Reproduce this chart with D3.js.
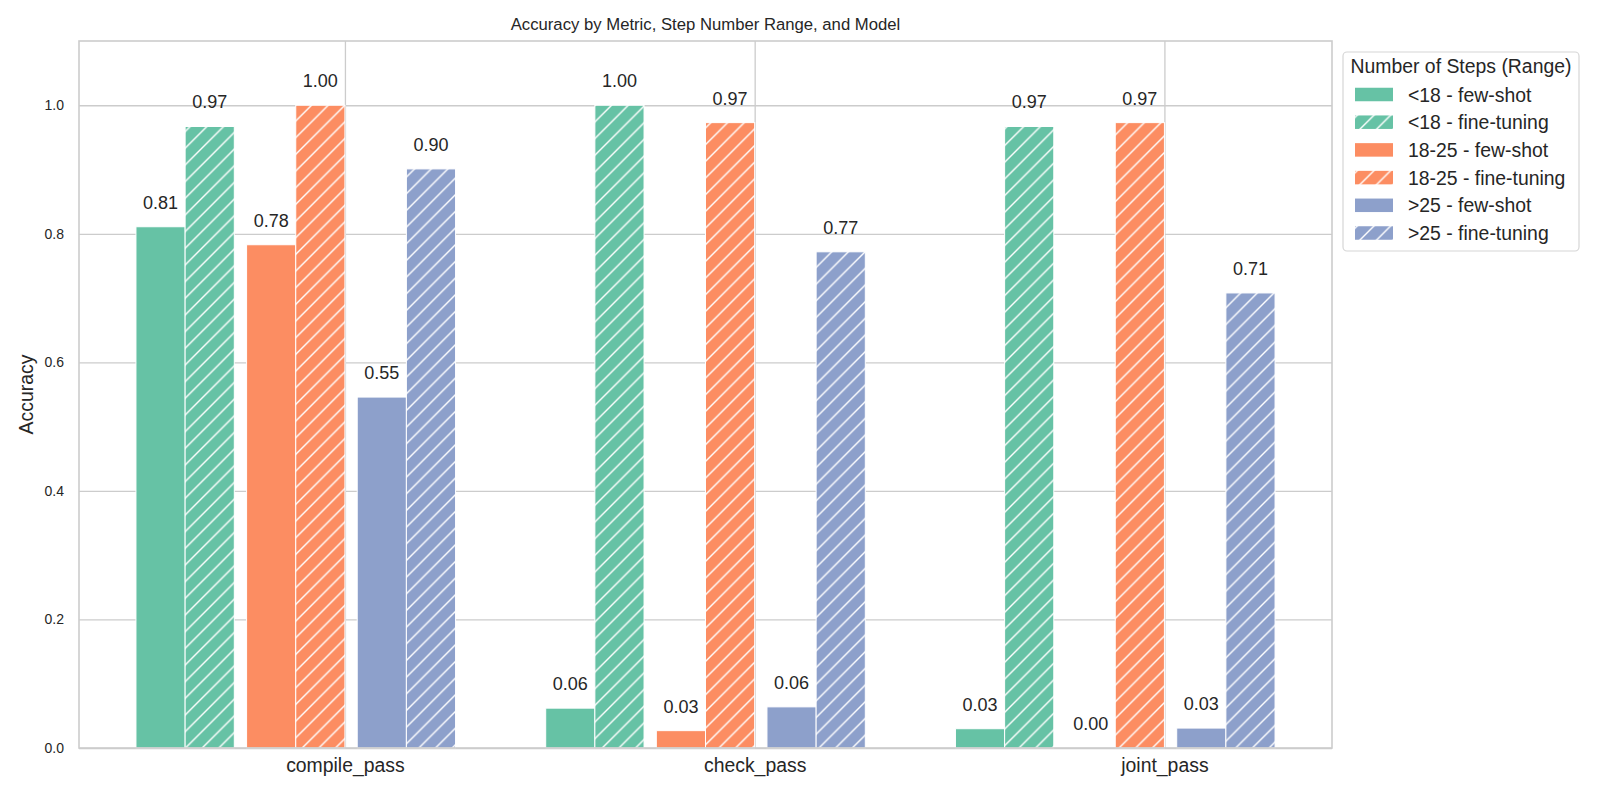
<!DOCTYPE html>
<html>
<head>
<meta charset="utf-8">
<script src="https://cdn.jsdelivr.net/npm/d3@7"></script>
<style>
  body { margin: 0; background: #fff; }
  text { font-family: "Liberation Sans", Arial, sans-serif; fill: #262626; }
</style>
</head>
<body>
<svg id="chart" width="1600" height="800"></svg>
<script>
// data
var metrics = ["compile_pass", "check_pass", "joint_pass"];
var ranges = ["<18", "18-25", ">25"];
var models = ["few-shot", "fine-tuning"];
var fewShotLt18 = [0.811, 0.062, 0.030];
var fineTuneLt18 = [0.967, 1.000, 0.967];
var fewShot1825 = [0.783, 0.027, 0.000];
var fineTune1825 = [1.000, 0.973, 0.973];
var fewShotGt25 = [0.546, 0.064, 0.031];
var fineTuneGt25 = [0.901, 0.772, 0.708];
var yTicks = [0.0, 0.2, 0.4, 0.6, 0.8, 1.0];
var colors = ["#66c2a5", "#fc8d62", "#8da0cb"];

var values = [
  [fewShotLt18, fineTuneLt18],
  [fewShot1825, fineTune1825],
  [fewShotGt25, fineTuneGt25]
];

var margin = {top: 41, right: 268, bottom: 52, left: 79};
var width = 1600, height = 800;
var barW = 0.12, groupStep = 0.27;

var x = d3.scaleLinear().domain([-0.649, 2.409]).range([margin.left, width - margin.right]);
var y = d3.scaleLinear().domain([0, 1.1]).range([height - margin.bottom, margin.top]);

var svg = d3.select("#chart");

// hatch pattern
var defs = svg.append("defs");
colors.forEach(function (c, i) {
  var p = defs.append("pattern")
    .attr("id", "hatch" + i)
    .attr("patternUnits", "userSpaceOnUse")
    .attr("width", 16.67).attr("height", 16.67);
  p.append("rect").attr("width", 16.67).attr("height", 16.67).attr("fill", c);
  p.append("path")
    .attr("d", "M0,16.67L16.67,0M-4,4L4,-4M12.67,20.67L20.67,12.67")
    .attr("stroke", "#fff").attr("stroke-width", 1.4);
});

// grid
svg.append("g")
  .attr("transform", "translate(" + margin.left + ",0)")
  .call(d3.axisLeft(y).tickValues(yTicks).tickSize(-(width - margin.left - margin.right)).tickFormat(""))
  .call(function (g) { g.select(".domain").remove(); })
  .selectAll("line").attr("stroke", "#cccccc").attr("stroke-width", 1.3);

svg.append("g")
  .attr("transform", "translate(0," + (height - margin.bottom) + ")")
  .call(d3.axisBottom(x).tickValues([0, 1, 2]).tickSize(-(height - margin.top - margin.bottom)).tickFormat(""))
  .call(function (g) { g.select(".domain").remove(); })
  .selectAll("line").attr("stroke", "#cccccc").attr("stroke-width", 1.3);

// bars
var bars = [];
ranges.forEach(function (r, i) {
  models.forEach(function (m, j) {
    values[i][j].forEach(function (v, k) {
      bars.push({range: i, model: j, metric: k, value: v,
        x0: k + (i - 1) * groupStep - 2 * barW + j * barW});
    });
  });
});

svg.append("g").selectAll("rect")
  .data(bars).enter().append("rect")
  .attr("x", d => x(d.x0))
  .attr("width", d => x(d.x0 + barW) - x(d.x0))
  .attr("y", d => y(d.value))
  .attr("height", d => y(0) - y(d.value))
  .attr("fill", d => d.model === 0 ? colors[d.range] : "url(#hatch" + d.range + ")")
  .attr("stroke", "#fff").attr("stroke-width", 1);

svg.append("g").selectAll("text")
  .data(bars).enter().append("text")
  .attr("x", d => x(d.x0 + barW / 2))
  .attr("y", d => y(d.value) - 18)
  .attr("text-anchor", "middle")
  .attr("font-size", 18)
  .text(d => d.value.toFixed(2));

// spines
svg.append("rect")
  .attr("x", margin.left).attr("y", margin.top)
  .attr("width", width - margin.left - margin.right)
  .attr("height", height - margin.top - margin.bottom)
  .attr("fill", "none").attr("stroke", "#cccccc").attr("stroke-width", 1.6);

// axes labels
svg.append("g")
  .attr("transform", "translate(" + margin.left + ",0)")
  .call(d3.axisLeft(y).tickValues(yTicks).tickSize(0).tickPadding(15).tickFormat(d3.format(".1f")))
  .call(function (g) { g.select(".domain").remove(); })
  .selectAll("text").attr("font-size", 14).attr("font-family", null).attr("fill", null);

svg.append("g")
  .attr("transform", "translate(0," + (height - margin.bottom) + ")")
  .call(d3.axisBottom(x).tickValues([0, 1, 2]).tickSize(0).tickPadding(10).tickFormat(i => metrics[i]))
  .call(function (g) { g.select(".domain").remove(); })
  .selectAll("text").attr("font-size", 19.4).attr("font-family", null).attr("fill", null);

svg.append("text")
  .attr("transform", "translate(33," + ((margin.top + height - margin.bottom) / 2) + ") rotate(-90)")
  .attr("text-anchor", "middle")
  .attr("font-size", 19.4)
  .text("Accuracy");

svg.append("text")
  .attr("x", (margin.left + width - margin.right) / 2)
  .attr("y", 30)
  .attr("text-anchor", "middle")
  .attr("font-size", 16.7)
  .text("Accuracy by Metric, Step Number Range, and Model");

// legend
var legend = svg.append("g");
legend.append("rect")
  .attr("x", 1343).attr("y", 52).attr("width", 236).attr("height", 199).attr("rx", 4)
  .attr("fill", "#fff").attr("stroke", "#d6d6d6").attr("stroke-width", 1.2);
legend.append("text")
  .attr("x", 1461).attr("y", 73)
  .attr("text-anchor", "middle")
  .attr("font-size", 19.4)
  .text("Number of Steps (Range)");

var items = [];
ranges.forEach(function (r, i) {
  models.forEach(function (m, j) { items.push({range: i, model: j, label: r + " - " + m}); });
});
var row = legend.selectAll("g.item").data(items).enter().append("g")
  .attr("transform", (d, i) => "translate(0," + (94.5 + i * 27.7) + ")");
row.append("rect")
  .attr("x", 1355).attr("y", -6.75).attr("width", 38).attr("height", 13.5)
  .attr("fill", d => d.model === 0 ? colors[d.range] : "url(#hatch" + d.range + ")");
row.append("text")
  .attr("x", 1408).attr("y", 7)
  .attr("font-size", 19.4)
  .text(d => d.label);
</script>
</body>
</html>
